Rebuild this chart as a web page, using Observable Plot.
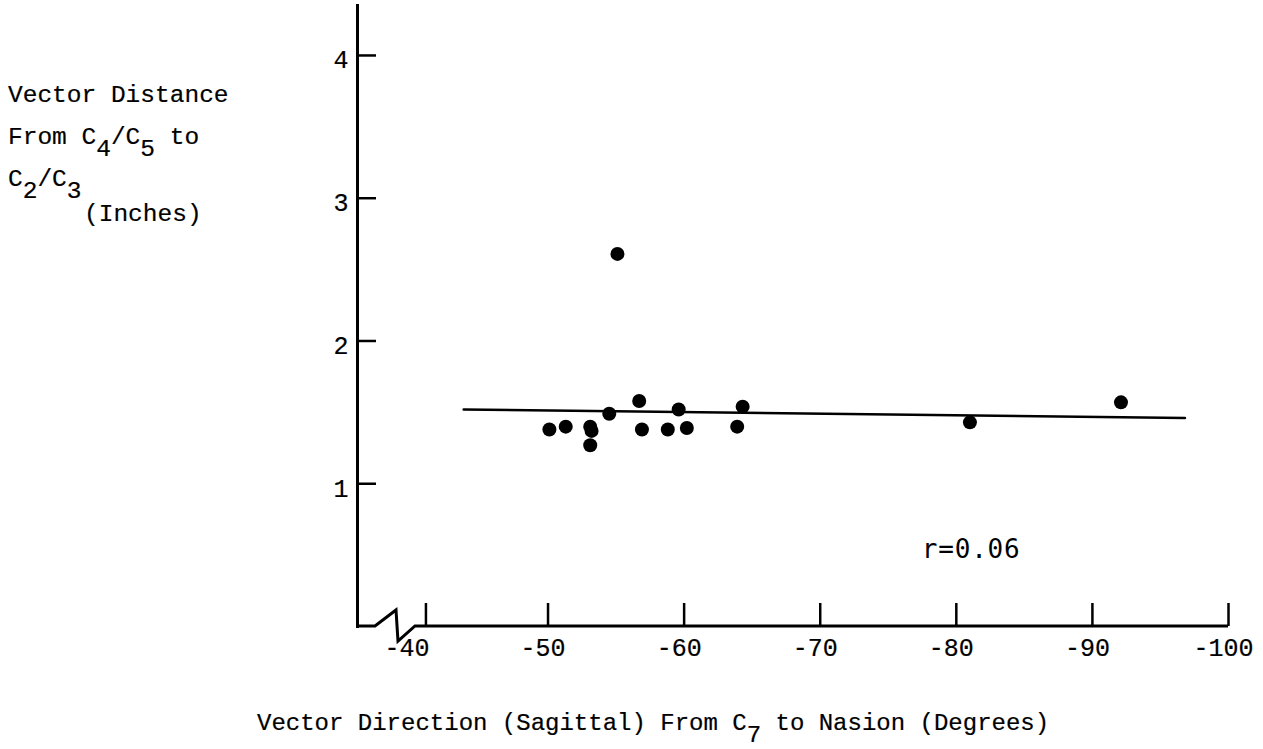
<!DOCTYPE html>
<html><head><meta charset="utf-8">
<script src="https://cdn.jsdelivr.net/npm/d3@7"></script>
<script src="https://cdn.jsdelivr.net/npm/@observablehq/plot@0.6"></script>
<style>html,body{margin:0;padding:0;background:#fff;overflow:hidden}</style>
</head><body><div id="chart"></div>
<script>
// Data
const directionDeg = [-55.1, -50.1, -51.3, -53.1, -53.2, -53.1, -54.5, -56.7, -56.9, -58.8, -59.6, -60.2, -63.9, -64.3, -81.0, -92.1];
const distanceIn   = [2.61, 1.38, 1.40, 1.40, 1.37, 1.27, 1.49, 1.58, 1.38, 1.38, 1.52, 1.39, 1.40, 1.54, 1.43, 1.57];
const fitX = [-43.8, -96.8];
const fitY = [1.52, 1.46];
const xTicks = [-40, -50, -60, -70, -80, -90, -100];
const yTicks = [1, 2, 3, 4];
const rLabel = "r=0.06";
const yTitleLines = [
  [["Vector Distance", false]],
  [["From C", false], ["4", true], ["/C", false], ["5", true], [" to", false]],
  [["C", false], ["2", true], ["/C", false], ["3", true]],
  [["(Inches)", false]]
];
const xTitle = [["Vector Direction (Sagittal) From C", false], ["7", true], [" to Nasion (Degrees)", false]];

const points = directionDeg.map((d, i) => ({dir: d, dist: distanceIn[i]}));
const fit = fitX.map((d, i) => ({dir: d, dist: fitY[i]}));

const W = 1263, H = 749;
const mono = "'Liberation Mono', 'Courier New', monospace";
const plot = Plot.plot({
  width: W, height: H,
  marginTop: 5, marginBottom: 123, marginLeft: 357, marginRight: 35,
  x: {domain: [-36, -100], axis: null},
  y: {domain: [0, 4.35], axis: null},
  style: {background: "white", color: "black"},
  marks: [
    Plot.frame({anchor: "left", stroke: "black", strokeWidth: 3}),
    Plot.tickX(xTicks.slice(1), {x: d => d, insetTop: 598, stroke: "black", strokeWidth: 2.5}),
    Plot.tickX(xTicks.slice(0, 1), {x: d => d, insetTop: 598, dx: 14, stroke: "black", strokeWidth: 2.5}),
    Plot.tickY(yTicks, {y: d => d, insetRight: 852, stroke: "black", strokeWidth: 2.5}),
    Plot.text(xTicks, {x: d => d, text: d => String(d), frameAnchor: "bottom", dy: 29, dx: -5,
      fontFamily: mono, fontSize: 25, fill: "black", stroke: "black", strokeWidth: 0.2}),
    Plot.text(yTicks, {y: d => d, text: d => String(d), frameAnchor: "left", textAnchor: "end", dx: -9, dy: 5,
      fontFamily: mono, fontSize: 25, fill: "black", stroke: "black", strokeWidth: 0.2}),
    Plot.line(fit, {x: "dir", y: "dist", stroke: "black", strokeWidth: 2.5}),
    Plot.dot(points, {x: "dir", y: "dist", r: 7, fill: "black"})
  ]
});

const svg = d3.select(plot);
const xs = plot.scale("x"), ys = plot.scale("y");
const x0 = xs.apply(xs.domain[0]), xEnd = xs.apply(-100), y0 = ys.apply(0);
// x axis with break symbol
svg.append("path")
  .attr("d", `M${x0},${y0}H${x0 + 18}L${x0 + 39},${y0 - 16}L${x0 + 41},${y0 + 15}L${x0 + 58},${y0}H${xEnd}`)
  .attr("fill", "none").attr("stroke", "black").attr("stroke-width", 3).attr("stroke-linejoin", "miter");

function addText(x, y, parts, size, subShift) {
  const t = svg.append("text").attr("x", x).attr("y", y)
    .attr("text-anchor", "start")
    .attr("font-family", mono).attr("font-size", size)
    .attr("fill", "black").attr("stroke", "black").attr("stroke-width", 0.2)
    .style("white-space", "pre").attr("xml:space", "preserve");
  let shift = 0;
  parts.forEach(([s, sub]) => {
    const target = sub ? subShift : 0;
    t.append("tspan").attr("dy", target - shift).text(s);
    shift = target;
  });
}
const yTitleX = [8, 8, 8, 84];
const yTitleBase = [102, 144, 186, 221];
yTitleLines.forEach((line, i) => addText(yTitleX[i], yTitleBase[i], line, 24.5, 12));
addText(257, 730, xTitle, 24, 12);

svg.append("text").attr("x", xs.apply(-77.5)).attr("y", ys.apply(0.476))
  .attr("text-anchor", "start")
  .attr("font-family", "'DejaVu Sans Mono', monospace").attr("font-size", 26)
  .attr("letter-spacing", 0.8).attr("fill", "black").text(rLabel);

document.getElementById("chart").appendChild(plot);
</script>
</body></html>
